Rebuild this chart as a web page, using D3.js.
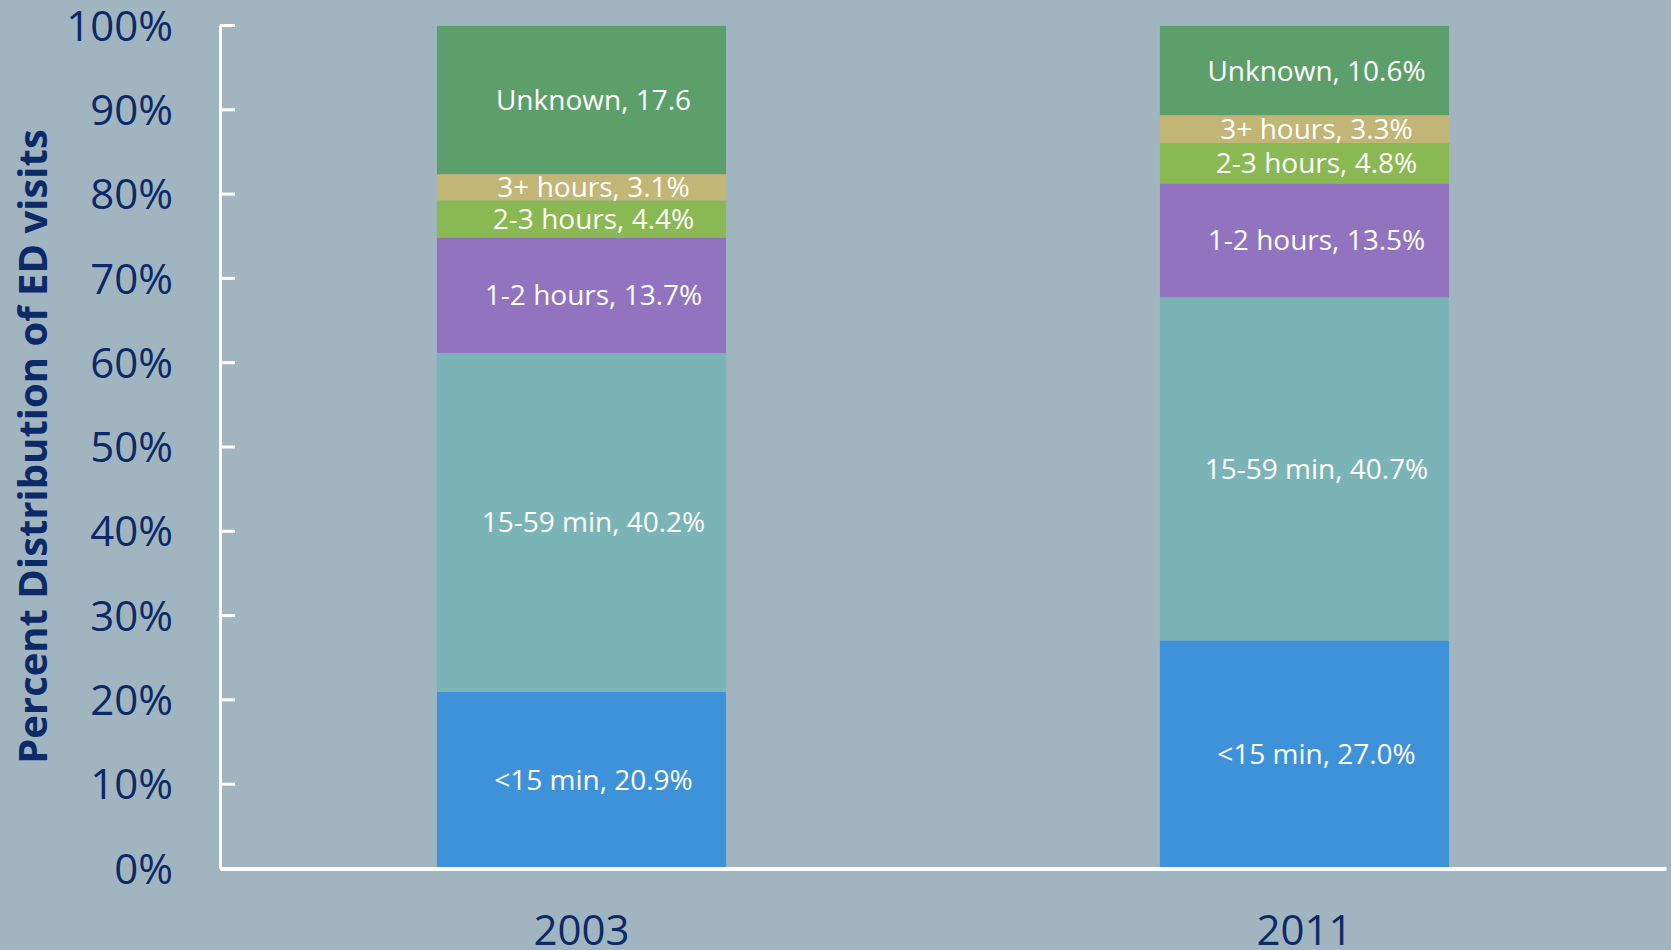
<!DOCTYPE html>
<meta charset="utf-8">
<style>
  body { margin: 0; background: #a1b5c1; }
  svg { display: block; }
</style>
<script src="https://cdn.jsdelivr.net/npm/d3@7"></script>
<div id="chart"></div>
<script>

// data
var years = ["2003", "2011"];
var categories = ["<15 min", "15-59 min", "1-2 hours", "2-3 hours", "3+ hours", "Unknown"];
var values2003 = [20.9, 40.2, 13.7, 4.4, 3.1, 17.6];
var values2011 = [27.0, 40.7, 13.5, 4.8, 3.3, 10.6];
var yTicks = [0, 10, 20, 30, 40, 50, 60, 70, 80, 90, 100];
var colors = ["#3e92d9", "#7bb4b6", "#9173bf", "#8ab853", "#c2b575", "#5d9f6b"];

var W = 1671, H = 950;
var margin = {top: 25, right: 5, bottom: 82, left: 220};

var svg = d3.select("#chart").append("svg")
  .attr("width", W)
  .attr("height", H)
  .style("background-color", "#a1b5c1");

var x = d3.scaleBand()
  .domain(years)
  .range([margin.left, W - margin.right])
  .paddingInner(0.6)
  .paddingOuter(0.3);

var y = d3.scaleLinear()
  .domain([0, 100])
  .range([H - margin.bottom, margin.top]);

var color = d3.scaleOrdinal().domain(categories).range(colors);

// build rows for stacking
var rows = years.map(function(yr, i) {
  var vals = i == 0 ? values2003 : values2011;
  var row = {year: yr};
  categories.forEach(function(c, j) { row[c] = vals[j]; });
  return row;
});

var series = d3.stack().keys(categories)(rows);

var layers = svg.append("g")
  .selectAll("g")
  .data(series)
  .enter().append("g")
    .attr("fill", function(d) { return color(d.key); });

layers.selectAll("rect")
  .data(function(d) { return d; })
  .enter().append("rect")
    .attr("x", function(d) { return x(d.data.year); })
    .attr("y", function(d) { return y(d[1]); })
    .attr("width", x.bandwidth())
    .attr("height", function(d) { return y(d[0]) - y(d[1]); });

// segment labels
layers.selectAll("text")
  .data(function(d) { return d.map(function(p) { p.key = d.key; return p; }); })
  .enter().append("text")
    .attr("x", function(d) { return x(d.data.year) + x.bandwidth() / 2 + 12; })
    .attr("y", function(d) { return (y(d[0]) + y(d[1])) / 2; })
    .attr("dy", "0.36em")
    .attr("text-anchor", "middle")
    .style("fill", "#ffffff")
    .style("font-family", "'Open Sans', sans-serif")
    .style("font-size", "28px")
    .text(function(d) {
      var v = d[1] - d[0];
      var s = d.key + ", " + v.toFixed(1);
      // the 2003 unknown label has no percent sign in the original
      if (!(d.key == "Unknown" && d.data.year == "2003")) s += "%";
      return s;
    });

// y axis
var yAxis = svg.append("g")
  .attr("transform", "translate(" + margin.left + ",0)")
  .call(d3.axisLeft(y)
    .tickValues(yTicks)
    .tickSize(-15)
    .tickSizeOuter(0)
    .tickPadding(47)
    .tickFormat(function(d) { return d + "%"; }));

yAxis.select(".domain").attr("stroke", "#ffffff").attr("stroke-width", 3);
yAxis.selectAll(".tick line").attr("stroke", "#ffffff").attr("stroke-width", 3);
yAxis.selectAll(".tick text")
  .attr("dy", "0.36em")
  .style("fill", "#0c2a68")
  .style("font-family", "'Open Sans', sans-serif")
  .style("font-size", "42px");

// x axis
var xAxis = svg.append("g")
  .attr("transform", "translate(0," + (H - margin.bottom) + ")")
  .call(d3.axisBottom(x).tickSize(0).tickSizeOuter(0).tickPadding(47));

xAxis.select(".domain").attr("stroke", "#ffffff").attr("stroke-width", 4)
  .attr("transform", "translate(0,0.5)");
xAxis.selectAll(".tick text")
  .style("fill", "#0c2a68")
  .style("font-family", "'Open Sans', sans-serif")
  .style("font-size", "42px");

// y axis title
svg.append("text")
  .attr("text-anchor", "middle")
  .attr("transform", "translate(47," + ((margin.top + H - margin.bottom) / 2 + 0) + ") rotate(-90)")
  .style("fill", "#0c2a68")
  .style("font-family", "'Open Sans', sans-serif")
  .style("font-weight", "bold")
  .style("font-size", "40px")
  .text("Percent Distribution of ED visits");

</script>
